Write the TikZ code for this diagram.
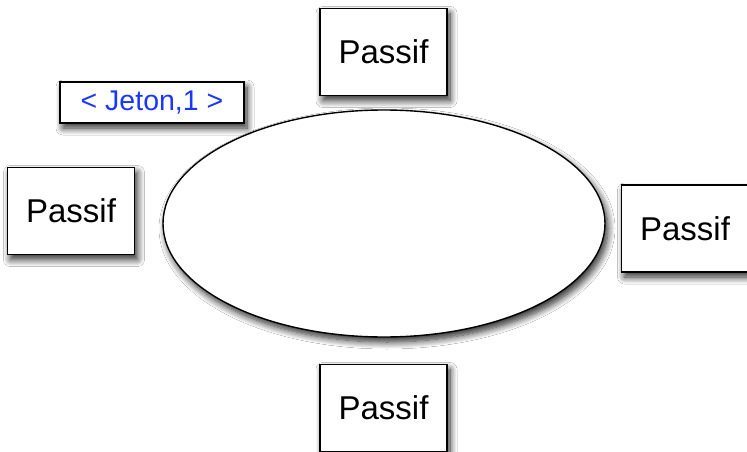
\documentclass[tikz,border=0pt]{standalone}
\usepackage{fontspec}
\setmainfont{Liberation Sans}
\usetikzlibrary{shapes.geometric,shadows.blur}
\definecolor{jetonblue}{RGB}{25,55,255}
\begin{document}
\begin{tikzpicture}[x=1pt,y=-1pt,
  shadowed/.style={blur shadow={shadow xshift=3pt,shadow yshift=-5pt,shadow blur steps=10,shadow blur radius=7pt,shadow opacity=85}},
  passbox/.style={draw=black,line width=1.4pt,fill=white,shadowed,minimum width=127pt,minimum height=87pt,inner sep=0pt,font=\fontsize{33}{33}\selectfont},
  jetonbox/.style={draw=black,line width=1.4pt,fill=white,shadowed,minimum width=184pt,minimum height=41pt,inner sep=0pt,text=jetonblue,font=\fontsize{28.5}{28.5}\selectfont}]
\useasboundingbox (0,0) rectangle (747,452);
\fill[white] (0,0) rectangle (747,452);
\node[draw=black,line width=1.4pt,fill=white,shadowed,ellipse,minimum width=442pt,minimum height=227pt,inner sep=0pt] (ring) at (384,223.5) {};
\node[passbox] (top) at (383.5,52) {Passif};
\node[passbox] (left) at (71,211) {Passif};
\node[passbox] (right) at (685,228.5) {Passif};
\node[passbox] (bottom) at (383.5,408) {Passif};
\node[jetonbox] (jeton) at (152,102.5) {< Jeton,1 >};
\end{tikzpicture}
\end{document}
